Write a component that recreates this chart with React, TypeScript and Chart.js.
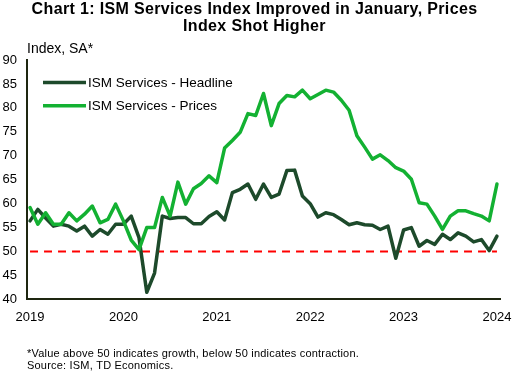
import React, { useEffect, useRef } from "react";
import { Chart, registerables } from "chart.js";

Chart.register(...registerables);

// ---------- data ----------
const titleLines = [
  "Chart 1: ISM Services Index Improved in January, Prices",
  "Index Shot Higher",
];
const yAxisTitle = "Index, SA*";
const footnotes = [
  "*Value above 50 indicates growth, below 50 indicates contraction.",
  "Source: ISM, TD Economics.",
];
const yearLabels = ["2019", "2020", "2021", "2022", "2023", "2024"];
const seriesNames = ["ISM Services - Headline", "ISM Services - Prices"];

// Monthly, Jan 2019 .. Jan 2024
const headline = [
  56.4, 58.8, 57.0, 55.3, 55.7, 55.3, 54.3, 55.3, 53.2, 54.6, 53.6, 55.7,
  55.7, 57.4, 52.9, 41.5, 45.5, 57.4, 56.9, 57.1, 57.1, 55.8, 55.8, 57.3,
  58.3, 56.6, 62.3, 63.0, 64.1, 60.9, 64.1, 61.3, 62.0, 66.9, 67.0, 61.6,
  60.0, 57.2, 58.1, 57.7, 56.7, 55.6, 56.0, 55.6, 55.5, 54.6, 55.3, 48.6,
  54.5, 55.0, 51.1, 52.3, 51.5, 53.6, 52.5, 53.9, 53.2, 52.0, 52.5, 50.2,
  53.2,
];
const prices = [
  59.2, 55.7, 58.1, 55.7, 55.7, 58.1, 56.4, 57.8, 59.5, 56.0, 56.7, 59.9,
  56.4, 52.4, 50.4, 55.0, 55.0, 61.3, 57.4, 64.5, 59.9, 63.1, 64.2, 65.8,
  64.4, 71.6, 73.2, 74.9, 78.8, 78.4, 83.0, 76.3, 80.9, 82.6, 82.3, 83.7,
  81.9, 82.8, 83.7, 83.3, 81.6, 79.5, 74.2, 71.8, 69.3, 70.2, 69.0, 67.5,
  66.8, 65.1, 60.2, 59.9, 57.4, 54.6, 57.4, 58.5, 58.5, 57.9, 57.4, 56.4,
  64.1,
];
const threshold = 50;
const yMin = 40;
const yMax = 90;
const yStep = 5;

// ---------- styles ----------
const FONT = '"Liberation Sans", Arial, sans-serif';
const headlineColor = "#1d4a2b";
const pricesColor = "#13b132";
const axisColor = "#1e2610";
const seriesColors = [headlineColor, pricesColor];

const overlayPlugin = {
  id: "overlayTexts",
  afterDraw(chart: any) {
    const ctx = chart.ctx;
    ctx.save();
    ctx.fillStyle = "#000";
    ctx.textBaseline = "alphabetic";
    ctx.textAlign = "center";
    ctx.font = `bold 16px ${FONT}`;
    ctx.letterSpacing = "0.35px";
    titleLines.forEach((t, i) => ctx.fillText(t, 254.5, 13.5 + i * 17.7));
    ctx.letterSpacing = "0px";

    ctx.textAlign = "left";
    ctx.font = `14px ${FONT}`;
    ctx.fillText(yAxisTitle, 27, 53.3);

    // legend
    ctx.textBaseline = "middle";
    ctx.font = `13.5px ${FONT}`;
    seriesNames.forEach((name, i) => {
      const y = 82.4 + i * 23.4;
      ctx.strokeStyle = seriesColors[i];
      ctx.lineWidth = 3.5;
      ctx.lineCap = "butt";
      ctx.beginPath();
      ctx.moveTo(43, y);
      ctx.lineTo(86, y);
      ctx.stroke();
      ctx.fillStyle = "#000";
      ctx.fillText(name, 88, y + 0.5);
    });

    ctx.textBaseline = "alphabetic";
    ctx.font = `11px ${FONT}`;
    ctx.letterSpacing = "0.2px";
    footnotes.forEach((t, i) => ctx.fillText(t, 27, 357 + i * 12.3));
    ctx.letterSpacing = "0px";
    ctx.restore();
  },
};

export default function App() {
  const ref = useRef<HTMLCanvasElement | null>(null);

  useEffect(() => {
    document.body.style.margin = "0";
    const canvas = ref.current;
    if (!canvas) return;
    const months = headline.map((_, i) => i);
    const yearTicks = yearLabels.map((_, i) => i * 12);

    const chart = new Chart(canvas, {
      type: "line",
      data: {
        datasets: [
          {
            label: seriesNames[1],
            data: prices.map((v, i) => ({ x: i, y: v })),
            borderColor: pricesColor,
            borderWidth: 3.5,
            pointRadius: 0,
            tension: 0,
            borderJoinStyle: "round",
            borderCapStyle: "round",
            order: 1,
          },
          {
            label: seriesNames[0],
            data: headline.map((v, i) => ({ x: i, y: v })),
            borderColor: headlineColor,
            borderWidth: 3.5,
            pointRadius: 0,
            tension: 0,
            borderJoinStyle: "round",
            borderCapStyle: "round",
            order: 2,
          },
          {
            label: "50",
            data: months.map((i) => ({ x: i, y: threshold })),
            borderColor: "#ff0000",
            borderWidth: 2,
            borderDash: [8, 6],
            pointRadius: 0,
            order: 3,
          },
        ],
      },
      options: {
        responsive: false,
        animation: false,
        events: [],
        layout: { padding: { top: 60, left: 0, right: 13, bottom: 36 } },
        plugins: {
          legend: { display: false },
          title: { display: false },
          tooltip: { enabled: false },
        },
        scales: {
          x: {
            type: "linear",
            min: -0.39,
            max: 60.39,
            afterBuildTicks: (scale: any) => {
              scale.ticks = yearTicks.map((v) => ({ value: v }));
            },
            afterFit: (scale: any) => {
              scale.paddingLeft = 0;
              scale.paddingRight = 0;
            },
            grid: { display: false, drawTicks: false },
            border: { display: true, color: axisColor, width: 2 },
            ticks: {
              autoSkip: false,
              maxRotation: 0,
              padding: 10,
              color: "#000",
              font: { family: FONT, size: 13 },
              callback: (v: any) => yearLabels[Math.round(Number(v) / 12)] ?? "",
            },
          },
          y: {
            min: yMin,
            max: yMax,
            afterFit: (scale: any) => {
              scale.width = 27;
            },
            grid: { display: false, drawTicks: false },
            border: { display: true, color: axisColor, width: 2 },
            ticks: {
              stepSize: yStep,
              padding: 10,
              color: "#000",
              font: { family: FONT, size: 13 },
            },
          },
        },
      },
      plugins: [overlayPlugin],
    });
    return () => chart.destroy();
  }, []);

  return (
    <div style={{ width: 513, height: 371, background: "#fff" }}>
      <canvas ref={ref} width={513} height={371} style={{ display: "block" }} />
    </div>
  );
}
